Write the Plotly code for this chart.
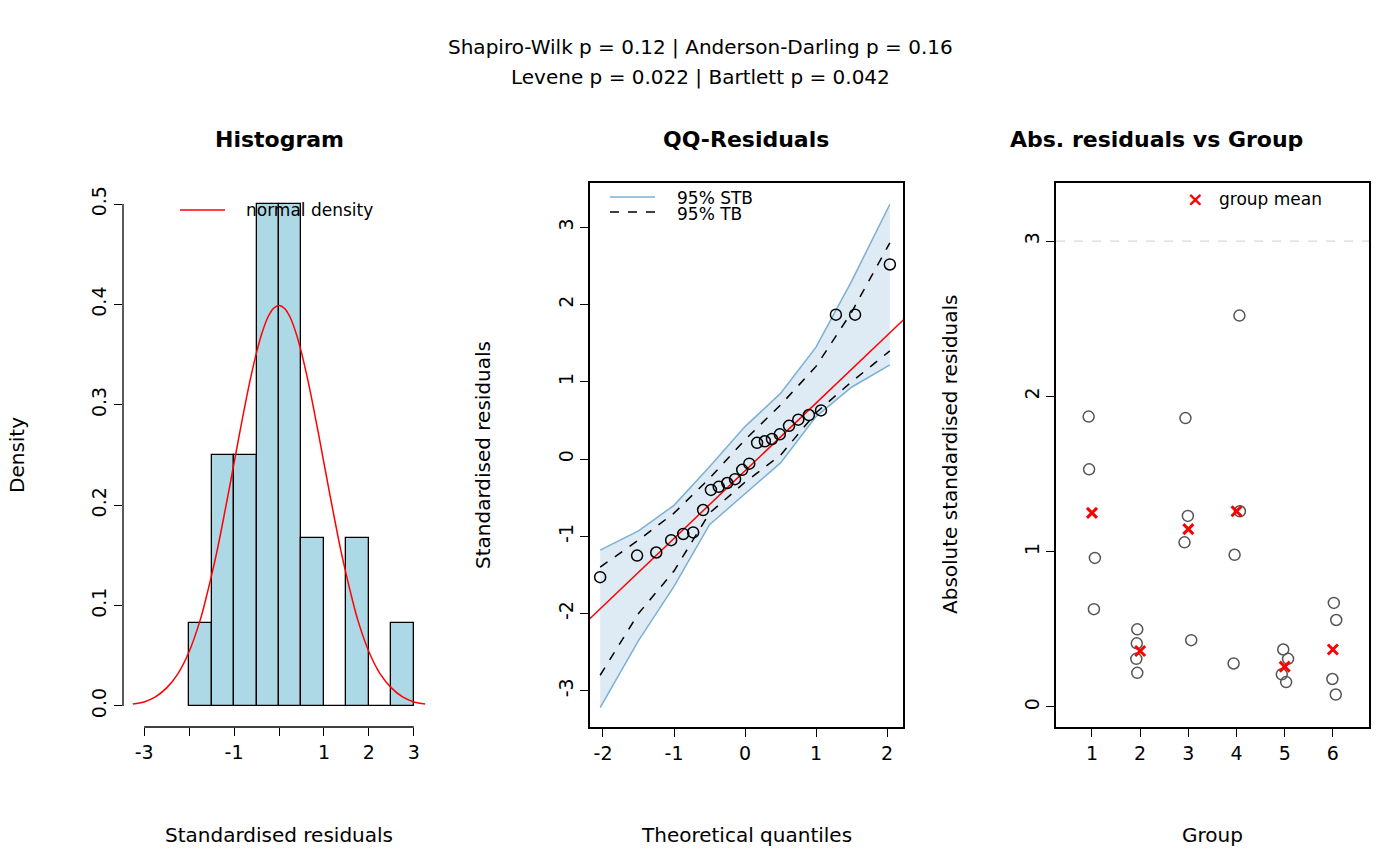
import plotly.graph_objects as go

# histogram of standardised residuals
bin_mid = [-1.75, -1.25, -0.75, -0.25, 0.25, 0.75, 1.25, 1.75, 2.25, 2.75]
bin_dens = [0.083, 0.25, 0.25, 0.5, 0.5, 0.167, 0.0, 0.167, 0.0, 0.083]
dens_x = [-3.25, -3.0, -2.75, -2.5, -2.25, -2.0, -1.75, -1.625, -1.5, -1.375, -1.25, -1.125, -1.0, -0.875,
          -0.75, -0.625, -0.5, -0.375, -0.25, -0.125, 0.0, 0.125, 0.25, 0.375, 0.5, 0.625, 0.75, 0.875,
          1.0, 1.125, 1.25, 1.375, 1.5, 1.625, 1.75, 2.0, 2.25, 2.5, 2.75, 3.0, 3.25]
dens_y = [0.002, 0.004, 0.009, 0.018, 0.032, 0.054, 0.086, 0.107, 0.130, 0.155, 0.183, 0.212, 0.242, 0.272,
          0.301, 0.328, 0.352, 0.372, 0.387, 0.396, 0.399, 0.396, 0.387, 0.372, 0.352, 0.328, 0.301, 0.272,
          0.242, 0.212, 0.183, 0.155, 0.130, 0.107, 0.086, 0.054, 0.032, 0.018, 0.009, 0.004, 0.002]

# qq plot
qq_x = [-2.04, -1.52, -1.25, -1.04, -0.87, -0.73, -0.59, -0.48, -0.37, -0.25, -0.14, -0.04,
        0.06, 0.17, 0.28, 0.38, 0.49, 0.62, 0.75, 0.90, 1.07, 1.28, 1.55, 2.04]
qq_y = [-1.53, -1.25, -1.21, -1.05, -0.97, -0.95, -0.66, -0.40, -0.36, -0.31, -0.26, -0.14,
        -0.06, 0.21, 0.23, 0.26, 0.32, 0.43, 0.51, 0.57, 0.63, 1.87, 1.87, 2.52]
band_x = [-2.04, -1.5, -1.0, -0.5, 0.0, 0.5, 1.0, 1.5, 2.04]
stb_hi = [-1.18, -0.93, -0.60, -0.10, 0.42, 0.85, 1.45, 2.30, 3.30]
stb_lo = [-3.22, -2.35, -1.65, -0.85, -0.45, -0.05, 0.55, 0.93, 1.22]
tb_hi = [-1.40, -1.05, -0.70, -0.25, 0.25, 0.70, 1.20, 1.90, 2.80]
tb_lo = [-2.80, -2.00, -1.45, -0.70, -0.30, 0.05, 0.60, 1.00, 1.40]
line_x = [-2.2, 2.25]
line_y = [-2.08, 1.82]

# abs residuals by group
grp_x = [0.93, 0.94, 1.06, 1.04, 1.94, 1.93, 1.92, 1.94, 2.94, 2.99, 2.92, 3.06,
         4.06, 4.07, 3.96, 3.94, 4.97, 5.07, 4.94, 5.03, 6.02, 6.07, 5.99, 6.06]
grp_y = [1.87, 1.53, 0.96, 0.63, 0.50, 0.41, 0.31, 0.22, 1.86, 1.23, 1.06, 0.43,
         2.52, 1.26, 0.98, 0.28, 0.37, 0.31, 0.21, 0.16, 0.67, 0.56, 0.18, 0.08]
groups = [1, 2, 3, 4, 5, 6]
grp_mean = [1.25, 0.36, 1.145, 1.26, 0.26, 0.37]

W, H = 1400, 866
OFF = 8  # page body margin
FONT = "DejaVu Sans"
def px(v): return (v - OFF) / W
def py(v): return 1 - (v - OFF) / H

fig = go.Figure()
fig.add_trace(go.Bar(x=bin_mid, y=bin_dens, width=0.5, marker=dict(color="#add8e6", line=dict(color="black", width=1.3)),
                     xaxis="x", yaxis="y"))
fig.add_trace(go.Scatter(x=dens_x, y=dens_y, mode="lines", line=dict(color="red", width=1.5, shape="spline"), xaxis="x", yaxis="y"))

fig.add_trace(go.Scatter(x=band_x, y=stb_lo, mode="lines", line=dict(color="#7bafd4", width=1.5), xaxis="x2", yaxis="y2"))
fig.add_trace(go.Scatter(x=band_x, y=stb_hi, mode="lines", fill="tonexty", fillcolor="rgba(123,175,212,0.25)",
                         line=dict(color="#7bafd4", width=1.5), xaxis="x2", yaxis="y2"))
fig.add_trace(go.Scatter(x=band_x, y=tb_hi, mode="lines", line=dict(color="black", width=1.5, dash="dash"), xaxis="x2", yaxis="y2"))
fig.add_trace(go.Scatter(x=band_x, y=tb_lo, mode="lines", line=dict(color="black", width=1.5, dash="dash"), xaxis="x2", yaxis="y2"))
fig.add_trace(go.Scatter(x=line_x, y=line_y, mode="lines", line=dict(color="red", width=1.5), xaxis="x2", yaxis="y2"))
fig.add_trace(go.Scatter(x=qq_x, y=qq_y, mode="markers", marker=dict(symbol="circle-open", size=11, color="black", line=dict(width=1.5)),
                         xaxis="x2", yaxis="y2"))

fig.add_trace(go.Scatter(x=grp_x, y=grp_y, mode="markers", marker=dict(symbol="circle-open", size=11, color="#555555", line=dict(width=1.5)),
                         xaxis="x3", yaxis="y3"))
fig.add_trace(go.Scatter(x=groups, y=grp_mean, mode="markers", marker=dict(symbol="x-thin-open", size=10, color="red", line=dict(width=3, color="red")),
                         xaxis="x3", yaxis="y3"))

tick = dict(ticks="outside", ticklen=8, tickcolor="black", tickwidth=1.3, showgrid=False, zeroline=False,
            tickfont=dict(size=19, color="black"))
ydom = [py(727), py(183)]
fig.update_layout(
    width=W, height=H, showlegend=False, plot_bgcolor="white", paper_bgcolor="white",
    margin=dict(l=0, r=0, t=0, b=0), font=dict(family=FONT, color="black"), bargap=0,
    xaxis=dict(domain=[px(123), px(435)], range=[-3.47, 3.47], tickvals=[-3, -2, -1, 0, 1, 2, 3],
               ticktext=["-3", "", "-1", "", "1", "2", "3"], showline=False, **tick),
    yaxis=dict(domain=ydom, range=[-0.021, 0.521], tickvals=[0, 0.1, 0.2, 0.3, 0.4, 0.5],
               ticktext=["0.0", "0.1", "0.2", "0.3", "0.4", "0.5"], tickangle=-90, showline=False, **tick),
    xaxis2=dict(domain=[px(590), px(903)], range=[-2.183, 2.225], tickvals=[-2, -1, 0, 1, 2],
                ticktext=["-2", "-1", "0", "1", "2"], anchor="y2",
                showline=True, mirror=True, linecolor="black", linewidth=1.5, **tick),
    yaxis2=dict(domain=ydom, range=[-3.47, 3.575], tickvals=[-3, -2, -1, 0, 1, 2, 3],
                ticktext=["-3", "-2", "-1", "0", "1", "2", "3"], tickangle=-90, anchor="x2",
                showline=True, mirror=True, linecolor="black", linewidth=1.5, **tick),
    xaxis3=dict(domain=[px(1056), px(1369)], range=[0.253, 6.75], tickvals=groups, anchor="y3",
                showline=True, mirror=True, linecolor="black", linewidth=1.5, **tick),
    yaxis3=dict(domain=ydom, range=[-0.129, 3.374], tickvals=[0, 1, 2, 3], tickangle=-90, anchor="x3",
                showline=True, mirror=True, linecolor="black", linewidth=1.5, **tick),
)

# R-style detached axis lines for the histogram
fig.add_shape(type="line", xref="x", yref="y domain", x0=-3, x1=3, y0=0, y1=0, line=dict(color="black", width=1.3))
fig.add_shape(type="line", xref="x domain", yref="y", x0=0, x1=0, y0=0, y1=0.5, line=dict(color="black", width=1.3))
# reference line at 3
fig.add_shape(type="line", xref="x3 domain", yref="y3", x0=0, x1=1, y0=3, y1=3, line=dict(color="#d9d9d9", width=1.3, dash="dash"))

def text(x, y, s, size=20, bold=False, angle=0, xanchor="center", color="black"):
    fig.add_annotation(x=px(x), y=py(y), xref="paper", yref="paper", text=f"<b>{s}</b>" if bold else s,
                       showarrow=False, textangle=angle, xanchor=xanchor, yanchor="middle",
                       font=dict(size=size, family=FONT, color=color))

text(700, 47, "Shapiro-Wilk p = 0.12 | Anderson-Darling p = 0.16")
text(700, 77, "Levene p = 0.022 | Bartlett p = 0.042")
text(279, 139, "Histogram", size=22, bold=True)
text(746, 139, "QQ-Residuals", size=22, bold=True)
text(1008, 139, "Abs. residuals vs Group", size=22, bold=True, xanchor="left")
text(279, 835, "Standardised residuals")
text(746, 835, "Theoretical quantiles")
text(1212, 835, "Group")
text(17, 455, "Density", angle=-90)
text(483, 455, "Standardised residuals", angle=-90)
text(950, 455, "Absolute standardised residuals", angle=-90)

# legends
fig.add_shape(type="line", xref="paper", yref="paper", x0=px(180), x1=px(225), y0=py(210), y1=py(210), line=dict(color="red", width=1.5))
text(244, 210, "normal density", size=17, xanchor="left")
fig.add_shape(type="line", xref="paper", yref="paper", x0=px(610), x1=px(655), y0=py(197), y1=py(197), line=dict(color="#7bafd4", width=1.5))
fig.add_shape(type="line", xref="paper", yref="paper", x0=px(610), x1=px(655), y0=py(212), y1=py(212), line=dict(color="black", width=1.5, dash="dash"))
text(675, 198, "95% STB", size=17, xanchor="left")
text(675, 214, "95% TB", size=17, xanchor="left")
text(1195, 199, "<b>×</b>", size=20, color="red")
text(1217, 199, "group mean", size=17, xanchor="left")

fig.write_html("out.html")
